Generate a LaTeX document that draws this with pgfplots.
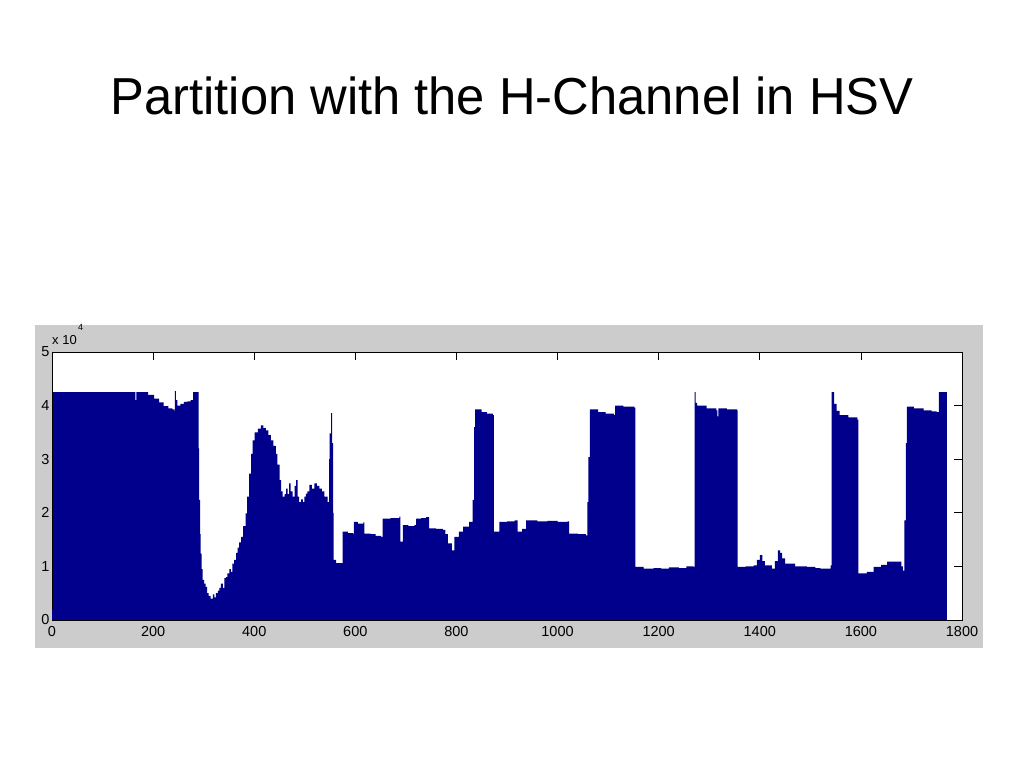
\documentclass[border=0pt]{standalone}
\usepackage{pgfplots}
\pgfplotsset{compat=1.18}
\usepackage{fontspec}
\setmainfont{Liberation Sans}
\definecolor{barblue}{RGB}{0,0,140}
\definecolor{panel}{RGB}{204,204,204}
\begin{document}
\begin{tikzpicture}[x=1pt,y=1pt]
\fill[white] (0,0) rectangle (1024,768);
\fill[panel] (35,120) rectangle (983,443);
\node[anchor=base,xscale=0.975,inner sep=0pt] at (512,653) {\fontsize{52}{60}\selectfont Partition with the H-Channel in HSV};
\begin{axis}[
  at={(52pt,148pt)}, anchor=south west,
  scale only axis, width=910pt, height=268pt,
  xmin=0, xmax=1800, ymin=0, ymax=5,
  xtick={0,200,...,1800}, ytick={0,1,2,3,4,5},
  axis background/.style={fill=white},
  tick align=inside, major tick length=8pt,
  every tick/.style={black, line width=0.8pt},
  axis line style={black, line width=0.8pt},
  /pgf/number format/assume math mode=true,
  /pgf/number format/1000 sep={},
  ticklabel style={font=\fontsize{14.5}{16}\selectfont},
  xticklabel style={yshift=-3pt},
  yticklabel style={xshift=1pt},
  clip=false,
]
\addplot[const plot, fill=barblue, draw=none] coordinates {
(0,0.19)(2,4.25)(165,4.1)(167,4.25)(178,4.25)(190,4.2)(202,4.13)(212,4.06)(221,3.99)(230,3.95)(238,3.93)(242,3.9)(243,4.27)(245,4.1)(248,4.0)(254,4.03)(261,4.07)(268,4.08)(274,4.1)(279,4.25)(288,4.25)(290,3.2)(291,2.24)(293,1.6)(294,1.24)(296,0.95)(298,0.75)(301,0.68)(304,0.62)(307,0.5)(310,0.45)(314,0.4)(318,0.48)(321,0.42)(324,0.5)(328,0.55)(331,0.6)(334,0.68)(338,0.6)(341,0.78)(344,0.8)(347,0.87)(351,0.95)(354,0.9)(357,1.05)(360,1.12)(364,1.25)(367,1.35)(370,1.45)(374,1.55)(378,1.75)(383,1.99)(386,2.3)(390,2.73)(394,3.1)(397,3.35)(401,3.5)(407,3.57)(413,3.63)(418,3.58)(423,3.54)(428,3.45)(433,3.35)(438,3.25)(443,3.1)(446,2.9)(450,2.61)(453,2.4)(456,2.3)(460,2.35)(463,2.45)(466,2.35)(469,2.55)(472,2.4)(476,2.3)(480,2.5)(483,2.61)(486,2.3)(489,2.2)(493,2.25)(496,2.2)(499,2.3)(502,2.36)(505,2.4)(509,2.52)(514,2.45)(519,2.55)(524,2.5)(529,2.45)(534,2.4)(539,2.3)(545,2.2)(548,3.0)(549,3.48)(552,3.86)(554,3.3)(556,2.0)(557,1.12)(562,1.06)(572,1.06)(575,1.65)(585,1.62)(595,1.61)(597,1.83)(605,1.8)(616,1.82)(618,1.61)(630,1.6)(640,1.57)(651,1.55)(654,1.89)(670,1.9)(687,1.93)(689,1.46)(694,1.77)(705,1.75)(717,1.77)(720,1.89)(730,1.9)(740,1.92)(746,1.71)(760,1.7)(773,1.68)(778,1.6)(783,1.43)(791,1.30)(796,1.55)(805,1.65)(813,1.74)(825,1.83)(832,2.24)(835,3.6)(837,3.93)(850,3.88)(860,3.85)(872,3.82)(874,1.65)(885,1.83)(900,1.84)(915,1.86)(921,1.65)(930,1.7)(938,1.86)(960,1.84)(980,1.85)(1000,1.83)(1020,1.84)(1023,1.61)(1040,1.6)(1056,1.58)(1059,2.2)(1061,3.04)(1064,3.93)(1080,3.88)(1095,3.85)(1112,3.82)(1114,4.0)(1130,3.98)(1152,3.96)(1154,0.99)(1170,0.96)(1190,0.97)(1205,0.96)(1220,0.98)(1240,0.97)(1255,1.0)(1269,0.99)(1271,4.25)(1273,4.05)(1276,4.0)(1295,3.95)(1314,3.91)(1316,3.8)(1318,3.95)(1335,3.93)(1355,3.91)(1356,0.99)(1372,1.0)(1388,1.02)(1394,1.12)(1400,1.21)(1405,1.1)(1410,1.02)(1424,0.96)(1430,1.1)(1436,1.30)(1440,1.25)(1444,1.15)(1450,1.05)(1470,1.0)(1493,0.99)(1510,0.97)(1520,0.96)(1540,1.02)(1542,4.25)(1547,4.03)(1552,3.9)(1558,3.82)(1575,3.78)(1593,3.74)(1595,0.87)(1612,0.9)(1625,0.99)(1640,1.03)(1652,1.09)(1671,1.09)(1680,1.0)(1683,0.92)(1686,1.86)(1689,3.3)(1691,3.98)(1705,3.95)(1724,3.91)(1740,3.89)(1750,3.88)(1754,4.25)(1769,4.25)(1770,0)
} \closedcycle;
\end{axis}
\node[anchor=base west,inner sep=0pt] at (52,423) {\fontsize{13}{15}\selectfont x 10};
\node[anchor=base west,inner sep=0pt] at (78,437) {\fontsize{9}{10}\selectfont 4};
\end{tikzpicture}
\end{document}
